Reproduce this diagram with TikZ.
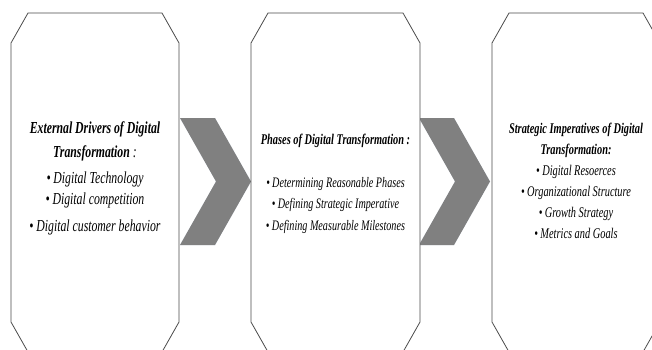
\documentclass[tikz,border=0pt]{standalone}
\usepackage{fontspec}
\setmainfont{Liberation Serif}[FakeStretch=0.70]

\tikzset{
	stage/.style={draw=black!70, fill=white, line width=0.8pt},
	chevron/.style={fill=black!50},
	chevronglow/.style={fill=cyan!60!blue!12},
	stagetext/.style={align=center, inner sep=0pt}
}
% one grey chevron from its top left corner
\newcommand{\chevronpath}[1]{(#1) -- ++(35,0) -- ++(36,63.5) -- ++(-36,63.5) -- ++(-35,0) -- ++(36,-63.5) -- cycle}

\begin{document}
\begin{tikzpicture}[x=1pt, y=-1pt]
		\useasboundingbox (0,0) rectangle (652,349);
		\clip (0,0) rectangle (652,349);
		\fill[white] (0,0) rectangle (652,349);

		% arrows between the stages
		\coordinate (arrowA) at (180,118);
		\coordinate (arrowB) at (419,118);
		\foreach \a in {arrowA, arrowB} {
			\fill[chevronglow, shift={(1.5,1.5)}] \chevronpath{\a};
			\fill[chevron] \chevronpath{\a};
		}

		% the three stage boxes (cut corners)
		\foreach \x/\w in {11/168, 251/169, 492/168}
			\draw[stage] (\x+17,13) -- (\x+\w-17,13) -- (\x+\w,43) -- (\x+\w,322) -- (\x+\w-17,352)
				-- (\x+17,352) -- (\x,322) -- (\x,43) -- cycle;

		\node[stagetext, font=\fontsize{16.8}{24}\selectfont\itshape] (drivers) at (95,178)
			{\textbf{External Drivers of Digital}\\ \textbf{Transformation} :\\[2pt]
			 \textbullet\,Digital Technology\\[-3pt] \textbullet\,Digital competition\\[3pt]
			 \textbullet\,Digital customer behavior};

		\node[stagetext, font=\fontsize{14.5}{21.5}\selectfont\itshape] (phases) at (335.5,184)
			{{\fontsize{14.8}{21.5}\selectfont\bfseries Phases of Digital Transformation :}\\[21pt]
			 \textbullet\,Determining Reasonable Phases\\ \textbullet\,Defining Strategic Imperative\\
			 \textbullet\,Defining Measurable Milestones};

		\node[stagetext, font=\fontsize{14.8}{21}\selectfont\itshape] (imperatives) at (576,180.5)
			{\textbf{Strategic Imperatives of Digital}\\ \textbf{Transformation:}\\
			 \textbullet\,Digital Resoerces\\ \textbullet\,Organizational Structure\\
			 \textbullet\,Growth Strategy\\ \textbullet\,Metrics and Goals};

	\end{tikzpicture}
\end{document}
